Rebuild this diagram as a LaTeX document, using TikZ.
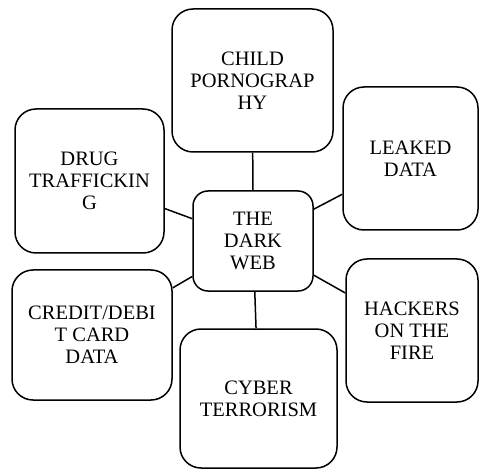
\documentclass[tikz,border=0pt]{standalone}
\usepackage{fontspec}
\setmainfont{Liberation Serif}[Scale=1.0]
\begin{document}
\begin{tikzpicture}[x=1pt,y=-1pt,
  box/.style={draw=black, line width=1.5pt, rounded corners=21pt, inner sep=0pt, align=center,
    font=\rmfamily\fontsize{20.5}{22}\selectfont, text=black},
  link/.style={draw=black, line width=1.5pt}]
\useasboundingbox (0,0) rectangle (479,470);
\node[box, rounded corners=15pt, minimum width=120pt, minimum height=100pt] (web) at (253,241) {THE\\DARK\\WEB};
\node[box, minimum width=161pt, minimum height=143pt] (child) at (252.5,80.5) {CHILD\\PORNOGRAP\\HY};
\node[box, minimum width=135pt, minimum height=143pt] (leak) at (410.5,158.5) {LEAKED\\DATA};
\node[box, minimum width=149pt, minimum height=144pt] (drug) at (89.5,181) {DRUG\\TRAFFICKIN\\G};
\node[box, minimum width=160pt, minimum height=130pt] (credit) at (92,335) {CREDIT/DEBI\\T CARD\\DATA};
\node[box, minimum width=157pt, minimum height=139pt] (cyber) at (258.5,398.5) {CYBER\\TERRORISM};
\node[box, minimum width=132pt, minimum height=143pt] (hack) at (412,330.5) {HACKERS\\ON THE\\FIRE};
\draw[link] (web) -- (child);
\draw[link] (web) -- (leak);
\draw[link] (web) -- (drug);
\draw[link] (web) -- (credit);
\draw[link] (web) -- (cyber);
\draw[link] (web) -- (hack);
\end{tikzpicture}
\end{document}
